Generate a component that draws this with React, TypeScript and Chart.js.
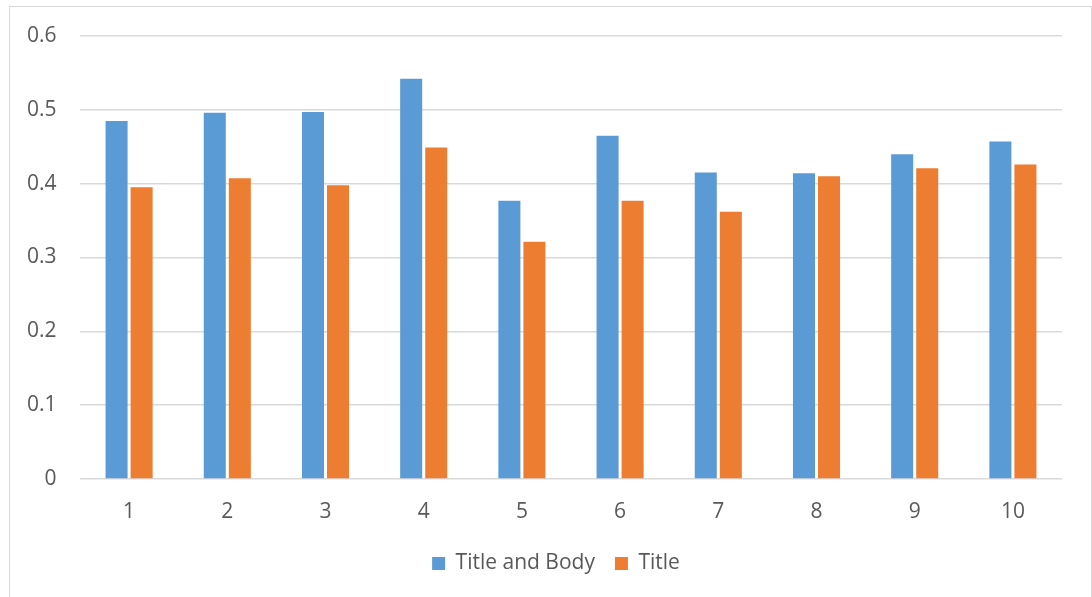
import React, { useEffect, useRef } from "react";
import { Chart, registerables } from "chart.js";

Chart.register(...registerables);

const categories = ["1", "2", "3", "4", "5", "6", "7", "8", "9", "10"];
const titleAndBody = [0.485, 0.496, 0.497, 0.542, 0.377, 0.465, 0.415, 0.414, 0.440, 0.457];
const titleOnly = [0.395, 0.4075, 0.398, 0.449, 0.3215, 0.377, 0.362, 0.410, 0.421, 0.426];
const yTicks = [0, 0.1, 0.2, 0.3, 0.4, 0.5, 0.6];

export default function App() {
  const ref = useRef<HTMLCanvasElement | null>(null);
  useEffect(() => {
    if (!ref.current) return;
    const font = { family: "'Open Sans', 'Noto Sans', sans-serif", size: 21 };
    const chart = new Chart(ref.current, {
      type: "bar",
      data: {
        labels: categories,
        datasets: [
          {
            label: "Title and Body",
            data: titleAndBody,
            backgroundColor: "#5B9BD5",
            categoryPercentage: 0.51,
            barPercentage: 0.88,
          },
          {
            label: "Title",
            data: titleOnly,
            backgroundColor: "#ED7D31",
            categoryPercentage: 0.51,
            barPercentage: 0.88,
          },
        ],
      },
      options: {
        animation: false,
        responsive: false,
        maintainAspectRatio: false,
        layout: { padding: { top: 29, right: 29, bottom: 13, left: 40 } },
        plugins: {
          tooltip: { enabled: false },
          legend: {
            position: "bottom",
            labels: {
              color: "#595959",
              font,
              boxWidth: 13,
              boxHeight: 13,
              padding: 20,
            },
          },
        },
        scales: {
          x: {
            grid: { display: false },
            border: { display: false },
            ticks: { color: "#595959", font, padding: 12 },
            afterFit: (s: any) => {
              s.height = 54;
            },
          },
          y: {
            min: 0,
            max: 0.6,
            afterBuildTicks: (s: any) => {
              s.ticks = yTicks.map((v) => ({ value: v }));
            },
            grid: { color: "#D9D9D9", lineWidth: 1.5, drawTicks: false },
            border: { display: false },
            ticks: {
              color: "#595959",
              font,
              mirror: true,
              crossAlign: "far",
              padding: -53,
              callback: (v: any) => String(Math.round(Number(v) * 10) / 10),
            },
            afterFit: (s: any) => {
              s.width = 30;
            },
          },
        },
      },
    });
    return () => chart.destroy();
  }, []);
  return (
    <div
      style={{
        position: "absolute",
        left: 9,
        top: 6,
        width: 1083,
        height: 600,
        border: "1px solid #D9D9D9",
        boxSizing: "border-box",
        background: "#fff",
      }}
    >
      <canvas ref={ref} width={1081} height={590} style={{ display: "block" }} />
    </div>
  );
}
